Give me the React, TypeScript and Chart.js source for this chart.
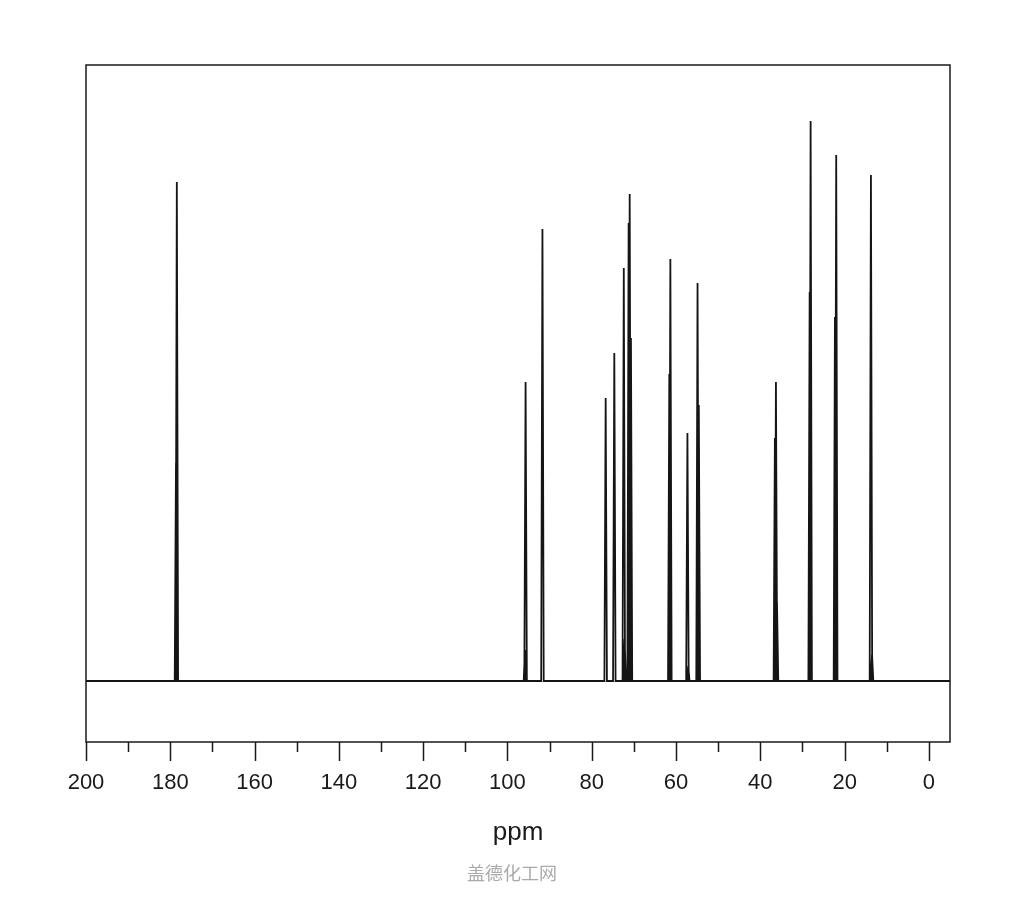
import React, { useEffect, useRef } from "react";
import { Chart, registerables } from "chart.js";

Chart.register(...registerables);

// Peak positions (ppm) and heights (arbitrary intensity units, baseline = 0)
const peakPpm = [
  178.65, 178.45,
  95.85, 95.7,
  91.7,
  76.7, 74.65, 72.4, 72.2, 71.25, 71.0, 70.7,
  61.6, 61.35, 57.3, 57.1, 54.9, 54.6,
  36.55, 36.3, 36.05,
  28.3, 28.07,
  22.3, 22.0,
  13.76, 13.5,
];
const peakHeight = [
  218, 499,
  31, 299,
  452,
  283, 328, 413, 42, 458, 487, 343,
  307, 422, 248, 15, 398, 276,
  243, 299, 79,
  389, 560,
  364, 526,
  506, 27,
];

const majorTicks = [200, 180, 160, 140, 120, 100, 80, 60, 40, 20, 0];
const minorTicks = [190, 170, 150, 130, 110, 90, 70, 50, 30, 10];

const xLow = -5;
const xHigh = 200;
const yLow = -61;
const yHigh = 616;
const halfWidth = 0.3;

function buildSpectrum() {
  const pts: { x: number; y: number }[] = [{ x: xHigh, y: 0 }];
  const order = peakPpm
    .map((p, i) => ({ p, h: peakHeight[i] }))
    .sort((a, b) => b.p - a.p);
  for (const { p, h } of order) {
    pts.push({ x: p + halfWidth, y: 0 });
    pts.push({ x: p, y: h });
    pts.push({ x: p - halfWidth, y: 0 });
  }
  pts.push({ x: xLow, y: 0 });
  return pts;
}

const framePlugin = {
  id: "frame",
  afterDraw(chart: any) {
    const { ctx, chartArea, scales } = chart;
    const { left, right, top, bottom } = chartArea;
    const x = scales.x;
    ctx.save();
    ctx.strokeStyle = "#1a1a1a";
    ctx.lineWidth = 1.5;
    ctx.strokeRect(left, top, right - left, bottom - top);
    ctx.beginPath();
    for (const v of majorTicks) {
      const px = Math.round(x.getPixelForValue(v)) + 0.5;
      ctx.moveTo(px, bottom);
      ctx.lineTo(px, bottom + 19);
    }
    for (const v of minorTicks) {
      const px = Math.round(x.getPixelForValue(v)) + 0.5;
      ctx.moveTo(px, bottom);
      ctx.lineTo(px, bottom + 10);
    }
    ctx.stroke();
    ctx.restore();
  },
};

export default function App() {
  const canvasRef = useRef<HTMLCanvasElement | null>(null);

  useEffect(() => {
    if (!canvasRef.current) return;
    const chart = new Chart(canvasRef.current, {
      type: "scatter",
      data: {
        datasets: [
          {
            data: buildSpectrum(),
            showLine: true,
            borderColor: "#151515",
            borderWidth: 1.8,
            pointRadius: 0,
            fill: false,
            tension: 0,
          },
        ],
      },
      options: {
        animation: false,
        responsive: false,
        maintainAspectRatio: false,
        layout: { padding: { left: 86, right: 74, top: 65, bottom: 48 } },
        plugins: { legend: { display: false }, tooltip: { enabled: false } },
        scales: {
          x: {
            type: "linear",
            min: xLow,
            max: xHigh,
            reverse: true,
            border: { display: false },
            grid: { display: false, drawTicks: false },
            afterBuildTicks: (scale: any) => {
              scale.ticks = majorTicks.map((v) => ({ value: v }));
            },
            afterFit: (scale: any) => {
              scale.height = 110;
            },
            ticks: {
              padding: 28,
              color: "#1a1a1a",
              font: { family: "'Liberation Sans', Arial, sans-serif", size: 22 },
              maxRotation: 0,
              autoSkip: false,
            },
            title: {
              display: true,
              text: "ppm",
              color: "#1a1a1a",
              font: { family: "'Liberation Sans', Arial, sans-serif", size: 26 },
              padding: { top: 0, bottom: 4 },
            },
          },
          y: {
            display: false,
            min: yLow,
            max: yHigh,
          },
        },
      },
      plugins: [framePlugin],
    });
    return () => chart.destroy();
  }, []);

  return (
    <div style={{ position: "absolute", left: 0, top: 0, width: 1024, height: 900, background: "#fff" }}>
      <canvas ref={canvasRef} width={1024} height={900} style={{ display: "block" }} />
      <div
        style={{
          position: "absolute",
          left: 0,
          top: 860,
          width: 1024,
          textAlign: "center",
          fontFamily: "'Noto Sans CJK SC', sans-serif",
          fontSize: 18,
          color: "#aaa",
          lineHeight: "24px",
        }}
      >
        盖德化工网
      </div>
    </div>
  );
}
